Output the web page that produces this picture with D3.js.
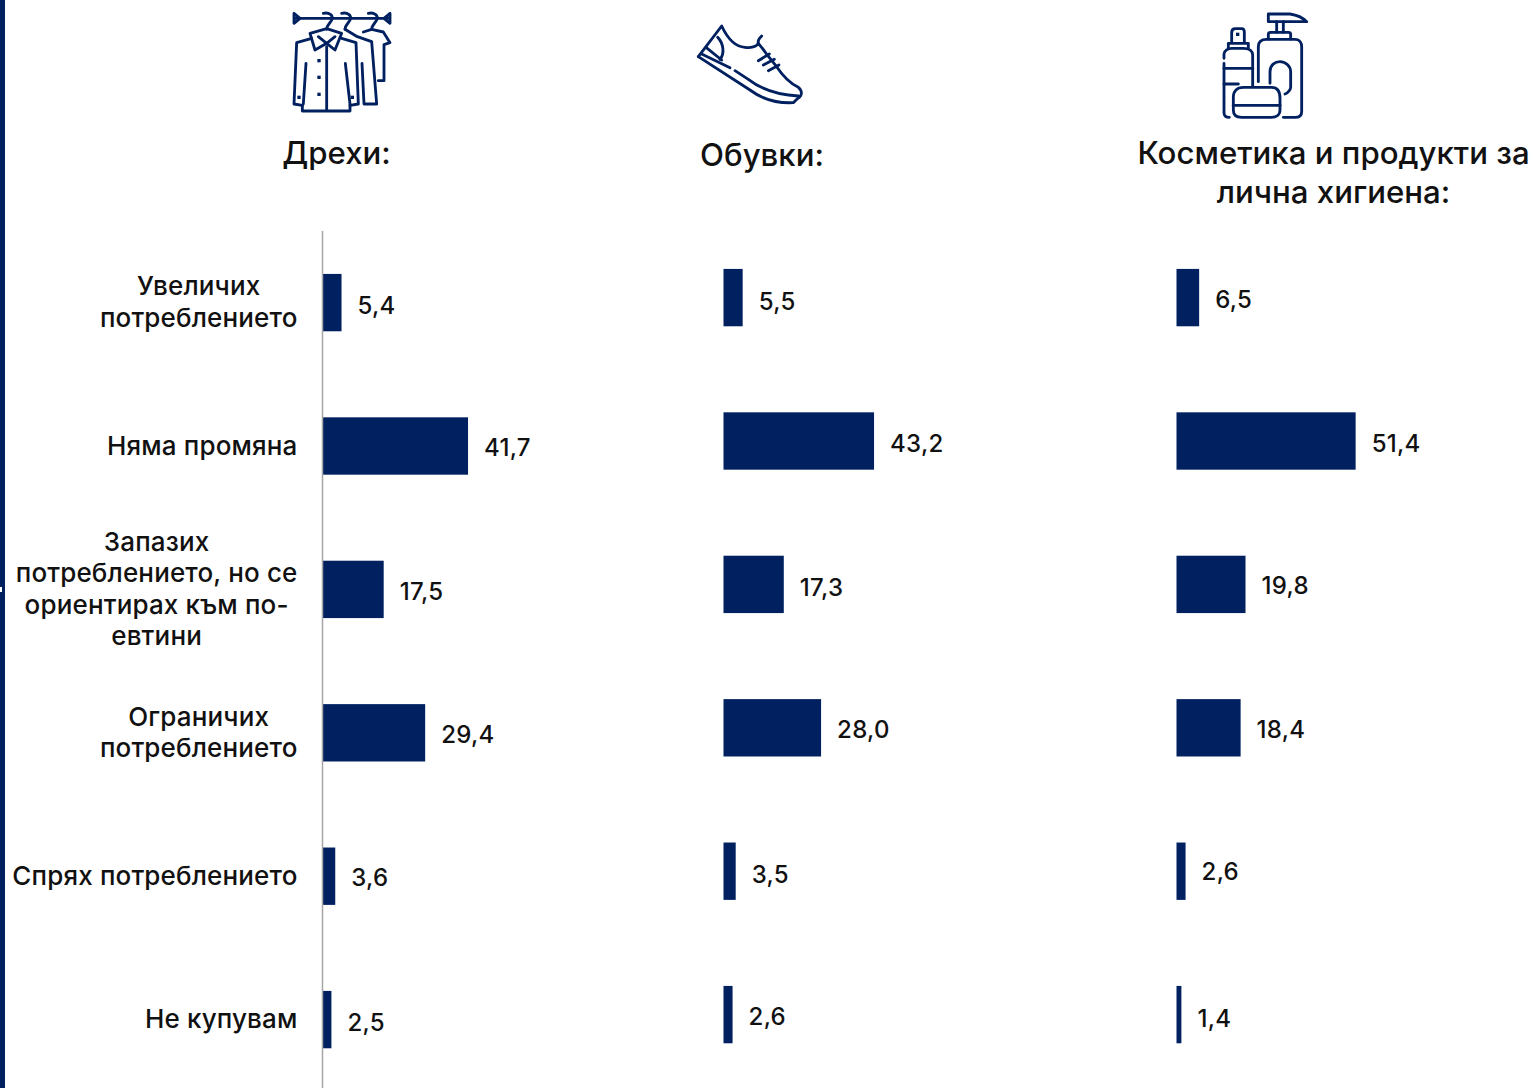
<!DOCTYPE html>
<html lang="bg">
<head>
<meta charset="utf-8">
<title>Потребление по категории</title>
<script src="https://cdn.jsdelivr.net/npm/d3@7/dist/d3.min.js"></script>
<style>
html,body{margin:0;padding:0;background:#fff;}
svg{display:block;}
text{font-family:Inter,"Open Sans",sans-serif;fill:#111;}
</style>
</head>
<body>
<svg id="chart" width="1534" height="1088"></svg>
<script>
// Response categories, one wrapped label per row
const categories = ["Увеличих потреблението","Няма промяна","Запазих потреблението, но се ориентирах към по-евтини","Ограничих потреблението","Спрях потреблението","Не купувам"];
const categoryLines = [
  ["Увеличих","потреблението"],
  ["Няма промяна"],
  ["Запазих","потреблението, но се","ориентирах към по-","евтини"],
  ["Ограничих","потреблението"],
  ["Спрях потреблението"],
  ["Не купувам"]
];

// Shares in percent per product group
const clothes = [5.4,41.7,17.5,29.4,3.6,2.5];
const shoes = [5.5,43.2,17.3,28.0,3.5,2.6];
const cosmetics = [6.5,51.4,19.8,18.4,2.6,1.4];

const titleClothes = ["Дрехи:"];
const titleShoes = ["Обувки:"];
const titleCosmetics = ["Косметика и продукти за","лична хигиена:"];

// Panel layout: where each column's baseline and rows begin, and small value-label shifts
const NAVY = "#002060";
const PX_PER_UNIT = 3.485;
const ROW_STEP = 143.4;
const panels = [
  {values:clothes, title:titleClothes, x0:322.7, top:230.9, titleX:336.5, titleY:164, nudge:[3,2,2,2,1,3]},
  {values:shoes, title:titleShoes, x0:723.5, top:225.9, titleX:762, titleY:166, nudge:[4,3,3,2,3,2]},
  {values:cosmetics, title:titleCosmetics, x0:1176.5, top:225.9, titleX:1333.5, titleY:164, nudge:[2,3,1,2,0,4]}
];

const svg = d3.select("#chart");

// Navy strip along the left edge
svg.append("rect").attr("x",0).attr("y",0).attr("width",5).attr("height",1088).attr("fill",NAVY);
svg.append("rect").attr("x",0).attr("y",587).attr("width",2).attr("height",5).attr("fill","#ffffff");

panels.forEach((p,pi)=>{
  const y = d3.scaleBand().domain(categories).range([p.top,p.top+ROW_STEP*categories.length]).paddingInner(0.6).paddingOuter(0.3);
  const x = d3.scaleLinear().domain([0,100]).range([p.x0,p.x0+PX_PER_UNIT*100]);
  const g = svg.append("g").attr("class","panel");

  g.selectAll("rect.bar").data(p.values).join("rect")
    .attr("class","bar")
    .attr("x",x(0))
    .attr("y",(d,i)=>y(categories[i]))
    .attr("width",d=>x(d)-x(0))
    .attr("height",y.bandwidth())
    .attr("fill",NAVY);

  g.selectAll("text.value").data(p.values).join("text")
    .attr("class","value")
    .attr("x",d=>x(d)+16)
    .attr("y",(d,i)=>y(categories[i])+y.bandwidth()/2+p.nudge[i])
    .attr("dy","0.35em")
    .attr("font-size",24)
    .attr("font-weight",500)
    .attr("letter-spacing",0.3)
    .text(d=>d.toFixed(1).replace(".",","));

  g.selectAll("text.title").data(p.title).join("text")
    .attr("class","title")
    .attr("x",p.titleX)
    .attr("y",(d,i)=>p.titleY+i*39)
    .attr("text-anchor","middle")
    .attr("font-size",31.2)
    .attr("font-weight",500)
    .text(d=>d);

  // Row labels and the axis line belong to the first panel only
  if(pi===0){
    g.append("line").attr("x1",322.5).attr("x2",322.5).attr("y1",231).attr("y2",1088)
      .attr("stroke","#a6a6a6").attr("stroke-width",1.5);
    const LABEL_RIGHT = 297.5, LINE_H = 31.5;
    categoryLines.forEach((lines,i)=>{
      const cy = y(categories[i])+y.bandwidth()/2-0.5;
      const block = g.append("g").attr("class","row-label");
      const ts = block.selectAll("text").data(lines).join("text")
        .attr("y",(d,k)=>cy+(k-(lines.length-1)/2)*LINE_H)
        .attr("dy","0.35em")
        .attr("text-anchor","middle")
        .attr("font-size",26)
        .attr("font-weight",500)
        .attr("letter-spacing",0.15)
        .text(d=>d);
      const widest = d3.max(ts.nodes(),n=>n.getComputedTextLength());
      ts.attr("x",LABEL_RIGHT-widest/2);
    });
  }
});

// Line icons above the columns
function icon(tx,ty,paths,dots){
  const g = svg.append("g").attr("transform",`translate(${tx},${ty}) scale(${1/3})`)
    .attr("fill","none").attr("stroke",NAVY).attr("stroke-width",8.5)
    .attr("stroke-linecap","round").attr("stroke-linejoin","round");
  paths.forEach(d=>g.append("path").attr("d",d));
  (dots||[]).forEach(c=>g.append("rect").attr("x",c[0]-5).attr("y",c[1]-5).attr("width",10).attr("height",10).attr("fill",NAVY).attr("stroke","none"));
}

icon(270,0,[
  "M75 55H355","M72 40V70L90 55Z","M360 40V70L342 55Z",
  "M160 40C178 36 190 46 186 58C183 68 170 74 170 88",
  "M215 40C233 36 245 46 241 58C238 68 225 74 225 88",
  "M295 40C313 36 325 46 321 58C318 68 305 74 305 88",
  "M120 100L170 86L215 100L195 150L170 130L135 150Z","M145 110L170 130L195 110",
  "M125 115L80 128L72 312L97 316","M97 316V333H240V316","M215 115L258 128L265 312L240 316",
  "M170 140V330","M108 190L100 312","M226 190L240 312",
  "M225 88L262 110L305 125L320 312H282L276 190",
  "M280 96L305 88L340 96L360 128L342 134V242H325"
],[[147,182],[147,232],[147,283],[87,292],[247,292]]);

icon(680,10,[
  "M55 140L125 48C140 80 160 110 195 112C212 115 230 110 235 100C232 90 238 85 245 78",
  "M235 100C245 112 250 118 258 130L290 170C310 200 335 222 355 232C370 245 365 260 352 266L340 278C300 280 250 270 210 240L55 140",
  "M165 182L205 208C240 235 290 255 355 258","M65 132L150 173",
  "M78 112L125 150","M113 82C130 100 135 130 120 148",
  "M235 152L268 132","M250 165L283 148","M265 182L297 165"
]);

icon(1200,0,[
  "M205 42H270C290 45 310 55 320 65H205Z","M230 65V97","M250 65V97","M205 117V103C205 99 208 97 212 97H265C270 97 272 99 272 103V117",
  "M175 245V140C175 125 185 118 200 118H285C300 118 305 130 305 140V335C305 348 298 352 285 352H250",
  "M210 250V215C210 195 225 185 240 185C258 185 272 200 272 215V262C272 270 262 280 255 282",
  "M95 127V98C95 90 100 86 106 86H125C130 86 133 90 133 97V127","M85 145V130H145V145",
  "M72 175V162C72 152 85 145 95 145H130C150 145 158 155 158 165V260",
  "M72 190V338C72 348 78 352 88 352","M72 205H158","M72 252H115",
  "M100 292C100 275 110 262 130 262H215C235 262 240 280 240 295V330C240 345 228 352 215 352H125C110 352 100 345 100 330Z","M100 316H240"
],[[113,103]]);
</script>
</body>
</html>
